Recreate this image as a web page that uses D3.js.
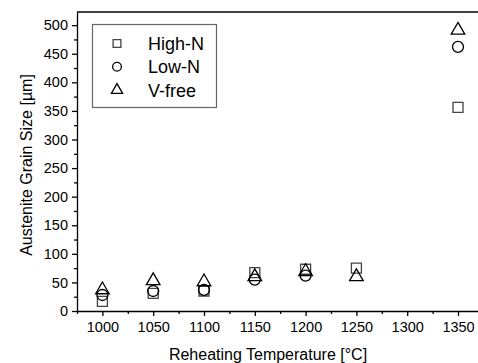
<!DOCTYPE html>
<html>
<head>
<meta charset="utf-8">
<script src="https://cdn.jsdelivr.net/npm/d3@7"></script>
<style>
  body { margin: 0; background: #fff; }
  svg { display: block; font-family: 'Liberation Sans', Arial, sans-serif; }
  .axis path, .axis line { stroke: #000; stroke-width: 1.3; }
  .axis text { font-size: 14.5px; fill: #000; font-family: 'Liberation Sans', Arial, sans-serif; }
</style>
</head>
<body>
<div id="chart"></div>
<script>
var temps = [1000, 1050, 1100, 1150, 1200, 1250, 1350]
var highN = [17, 31, 35, 67, 73, 75, 356]
var lowNTemps = [1000, 1050, 1100, 1150, 1200, 1350]
var lowN = [28, 35, 37, 55, 62, 462]
var vFree = [37, 53, 51, 60, 69, 60, 491]
var xTicks = [1000, 1050, 1100, 1150, 1200, 1250, 1300, 1350]
var yTicks = [0, 50, 100, 150, 200, 250, 300, 350, 400, 450, 500]

var W = 478, H = 363
var plotLeft = 77, plotTop = 12, plotBottom = 311

var svg = d3.select('#chart').append('svg')
  .attr('width', W)
  .attr('height', H)

var x = d3.scaleLinear().domain([975, 1375]).range([plotLeft, plotLeft + 406.4])
var y = d3.scaleLinear().domain([0, 523]).range([plotBottom, plotTop])

// minor ticks
var xMinor = d3.range(975, 1376, 25).filter(function (d) { return d % 50 !== 0 })
var yMinor = d3.range(25, 523, 50)

svg.append('g')
  .attr('class', 'axis')
  .attr('transform', 'translate(0,' + plotBottom + ')')
  .call(d3.axisBottom(x).tickValues(xMinor).tickSize(3).tickFormat(''))
  .select('.domain').remove()

svg.append('g')
  .attr('class', 'axis')
  .attr('transform', 'translate(' + plotLeft + ',0)')
  .call(d3.axisLeft(y).tickValues(yMinor).tickSize(3).tickFormat(''))
  .select('.domain').remove()

svg.append('g')
  .attr('class', 'axis')
  .attr('transform', 'translate(0,' + plotBottom + ')')
  .call(d3.axisBottom(x).tickValues(xTicks).tickSize(5).tickSizeOuter(0).tickPadding(6).tickFormat(d3.format('d')))

svg.append('g')
  .attr('class', 'axis')
  .attr('transform', 'translate(' + plotLeft + ',0)')
  .call(d3.axisLeft(y).tickValues(yTicks).tickSize(5).tickSizeOuter(0).tickPadding(4))

// top frame line
svg.append('line')
  .attr('x1', plotLeft).attr('x2', W)
  .attr('y1', plotTop).attr('y2', plotTop)
  .attr('stroke', '#000')
  .attr('stroke-width', 1.3)

svg.append('text')
  .attr('x', 268)
  .attr('y', 360)
  .attr('text-anchor', 'middle')
  .style('font-size', '16px')
  .text('Reheating Temperature [°C]')

svg.append('text')
  .attr('transform', 'translate(32,165) rotate(-90)')
  .attr('text-anchor', 'middle')
  .style('font-size', '16px')
  .text('Austenite Grain Size [µm]')

var sym = {
  square: d3.symbol().type(d3.symbolSquare),
  circle: d3.symbol().type(d3.symbolCircle),
  triangle: d3.symbol().type(d3.symbolTriangle)
}

function drawSeries (xs, ys, type, size, color) {
  svg.append('g').selectAll('path')
    .data(ys)
    .enter()
    .append('path')
    .attr('transform', function (d, i) {
      return 'translate(' + x(xs[i]) + ',' + y(d) + ')'
    })
    .attr('d', sym[type].size(size)())
    .attr('fill', 'none')
    .attr('stroke', color)
    .attr('stroke-width', 1.3)
}

drawSeries(temps, highN, 'square', 100, '#444')
drawSeries(lowNTemps, lowN, 'circle', 95, '#000')
drawSeries(temps, vFree, 'triangle', 80, '#000')

// legend
var legend = svg.append('g')
legend.append('rect')
  .attr('x', 92.5).attr('y', 24.5)
  .attr('width', 124).attr('height', 83)
  .attr('fill', 'none')
  .attr('stroke', '#666')
  .attr('stroke-width', 1.2)

var legendItems = [
  { name: 'High-N', type: 'square', color: '#444', size: 60 },
  { name: 'Low-N', type: 'circle', color: '#000', size: 60 },
  { name: 'V-free', type: 'triangle', color: '#000', size: 55 }
]

legendItems.forEach(function (d, i) {
  var cy = 43.5 + i * 23.3
  legend.append('path')
    .attr('transform', 'translate(117,' + cy + ')')
    .attr('d', sym[d.type].size(d.size)())
    .attr('fill', 'none')
    .attr('stroke', d.color)
    .attr('stroke-width', 1.3)
  legend.append('text')
    .attr('x', 148)
    .attr('y', cy + 6.5)
    .style('font-size', '18px')
    .text(d.name)
})
</script>
</body>
</html>
